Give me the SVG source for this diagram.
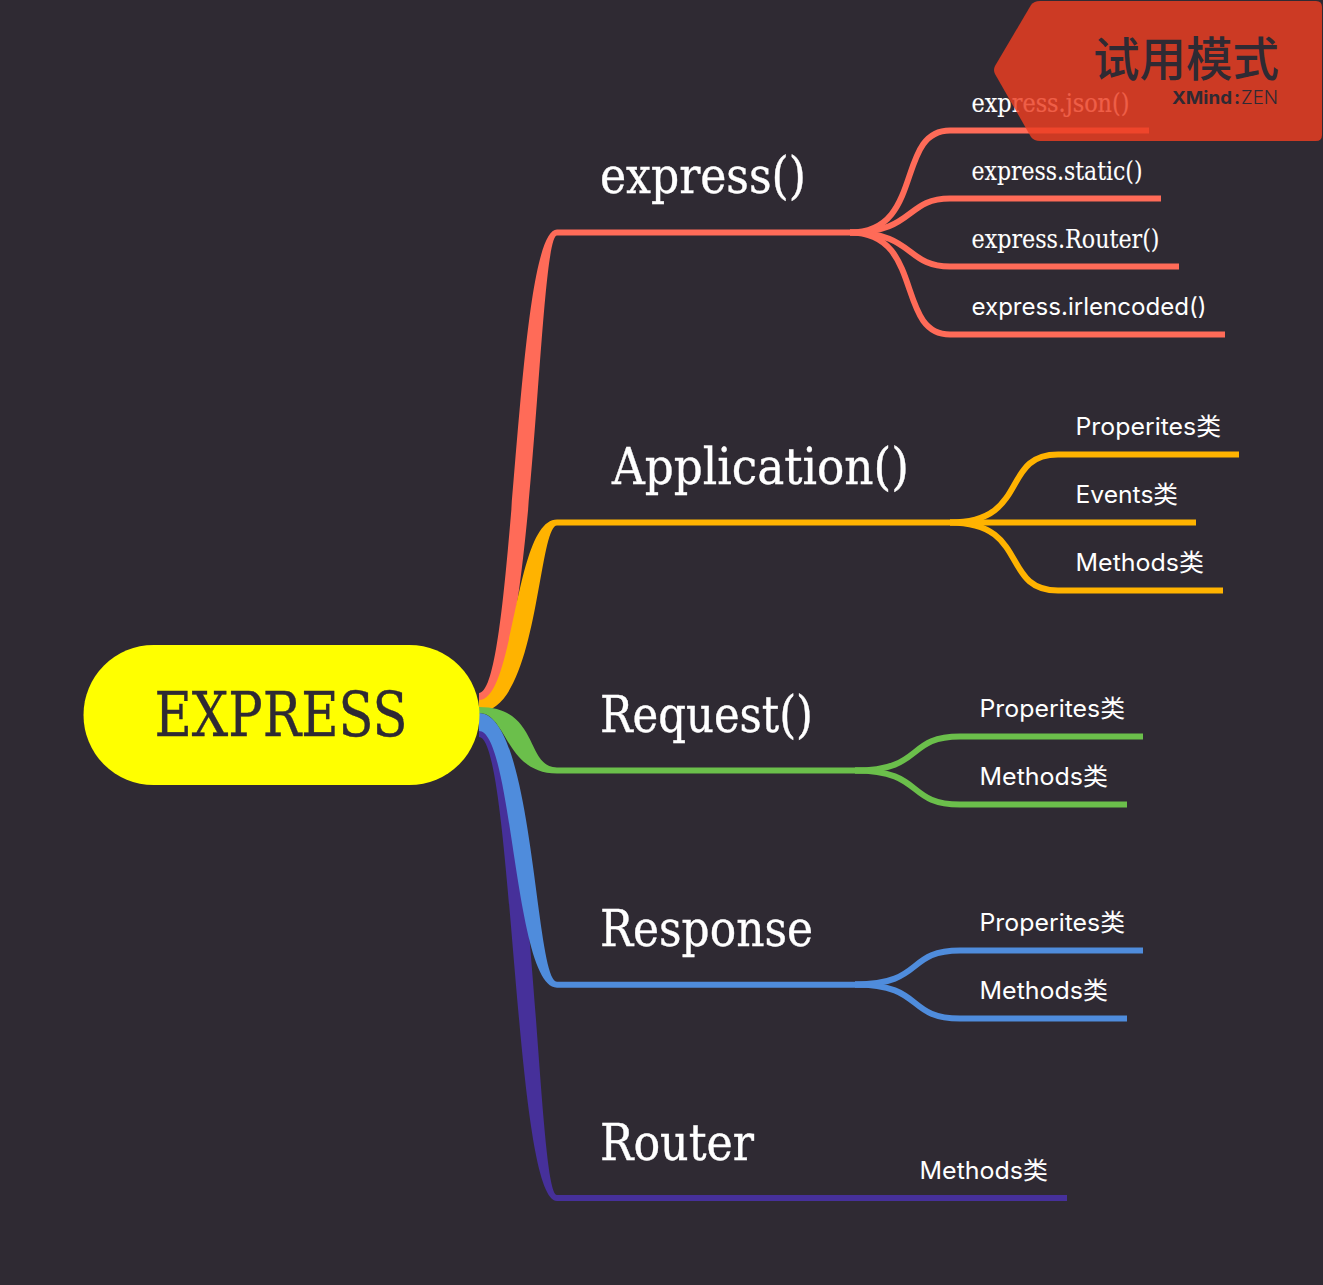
<svg xmlns="http://www.w3.org/2000/svg" width="1323" height="1285" viewBox="0 0 1323 1285">
<style>
.t{font-family:"DejaVu Serif Condensed","DejaVu Serif",serif;fill:#fff;stroke:#fff;stroke-width:.35px}
.main{font-size:50px}
.s{font-size:26px;stroke-width:.1px}
.m{font-family:Inter,"Noto Sans CJK SC",sans-serif;font-size:24px;fill:#fff}
.b{fill:none;stroke-width:6px}
</style>
<rect width="1323" height="1285" fill="#2f2a33"/>
<g id="connectors">
<path d="M479 693C515 693 514 229.500 557 229.500L850 229.500V235.500L557 235.500C537 235.500 535 708 479 708Z" fill="#ff6b58"/>
<path d="M479 700C515 700 514 519.500 557 519.500L1196 519.500V525.500L557 525.500C538 525.500 538 712 479 712Z" fill="#ffb300"/>
<path d="M479 720C535 720 536 1195 557 1195L1067 1195V1201L557 1201C514 1201 513 737 479 737Z" fill="#46309a"/>
<path d="M479 713C534 713 535 981.700 557 981.700L870 981.700V987.700L557 987.700C514 987.700 513 731 479 731Z" fill="#4f8cdc"/>
<path d="M479 707C540 707 525 767.500 557 767.500L870 767.500V773.500L557 773.500C505 773.500 507 713 479 713Z" fill="#6bbf4b"/>
<g class="b" stroke="#ff6b58">
<path d="M850 232.500C925 232.500 895 130.500 950 130.500H1149"/>
<path d="M850 232.500C915 232.500 905 198.500 950 198.500H1161"/>
<path d="M850 232.500C915 232.500 905 266.500 950 266.500H1179"/>
<path d="M850 232.500C925 232.500 895 334.500 950 334.500H1225"/>
</g>
<g class="b" stroke="#ffb300">
<path d="M950 522.500C1030 522.500 1000 454.500 1058 454.500H1239"/>
<path d="M950 522.500C1030 522.500 1000 590.500 1058 590.500H1223"/>
</g>
<g class="b" stroke="#6bbf4b">
<path d="M855 770.500C925 770.500 905 736.500 960 736.500H1143"/>
<path d="M855 770.500C925 770.500 905 804.500 960 804.500H1127"/>
</g>
<g class="b" stroke="#4f8cdc">
<path d="M855 984.500C925 984.500 905 950.500 960 950.500H1143"/>
<path d="M855 984.500C925 984.500 905 1018.500 960 1018.500H1127"/>
</g>
</g>
<g id="root"><rect x="83.500" y="645" width="396" height="140" rx="70" fill="#ff0"/>
<text x="154.500" y="736" class="t" style="fill:#2f2a33;stroke:#2f2a33;font-size:62px" textLength="253" lengthAdjust="spacingAndGlyphs">EXPRESS</text></g>
<g id="n-express"><text x="600" y="193" class="t main" textLength="206" lengthAdjust="spacingAndGlyphs">express()</text></g>
<g id="n-application"><text x="612" y="484" class="t main" textLength="297" lengthAdjust="spacingAndGlyphs">Application()</text></g>
<g id="n-request"><text x="600" y="732" class="t main" textLength="213" lengthAdjust="spacingAndGlyphs">Request()</text></g>
<g id="n-response"><text x="600" y="946" class="t main" textLength="213" lengthAdjust="spacingAndGlyphs">Response</text></g>
<g id="n-router"><text x="600" y="1160" class="t main" textLength="154" lengthAdjust="spacingAndGlyphs">Router</text></g>
<g id="n-json"><text x="971.500" y="111.500" class="t s" textLength="158" lengthAdjust="spacingAndGlyphs">express.json()</text></g>
<g id="n-static"><text x="971.500" y="179.500" class="t s" textLength="171" lengthAdjust="spacingAndGlyphs">express.static()</text></g>
<g id="n-router-fn"><text x="971.500" y="247.500" class="t s" textLength="188" lengthAdjust="spacingAndGlyphs">express.Router()</text></g>
<g id="n-urlencoded"><text x="971.500" y="315" class="m" textLength="235" lengthAdjust="spacingAndGlyphs">express.irlencoded()</text></g>
<g id="n-a1"><text x="1075.500" y="435" class="m" textLength="145.500" lengthAdjust="spacingAndGlyphs">Properites类</text></g>
<g id="n-a2"><text x="1075.500" y="503" class="m" textLength="102.500" lengthAdjust="spacingAndGlyphs">Events类</text></g>
<g id="n-a3"><text x="1075.500" y="571" class="m" textLength="128.500" lengthAdjust="spacingAndGlyphs">Methods类</text></g>
<g id="n-r1"><text x="979.500" y="717" class="m" textLength="145.500" lengthAdjust="spacingAndGlyphs">Properites类</text></g>
<g id="n-r2"><text x="979.500" y="785" class="m" textLength="128.500" lengthAdjust="spacingAndGlyphs">Methods类</text></g>
<g id="n-s1"><text x="979.500" y="931" class="m" textLength="145.500" lengthAdjust="spacingAndGlyphs">Properites类</text></g>
<g id="n-s2"><text x="979.500" y="999" class="m" textLength="128.500" lengthAdjust="spacingAndGlyphs">Methods类</text></g>
<g id="n-t1"><text x="919.500" y="1179" class="m" textLength="128.500" lengthAdjust="spacingAndGlyphs">Methods类</text></g>
<g id="watermark">
<path d="M1040 1H1316Q1322 1 1322 7V135Q1322 141 1316 141H1040Q1034 141 1031 137L995 74Q993 70 995 66L1031 5Q1034 1 1040 1Z" fill="#ec3d22" fill-opacity=".83"/>
<text x="1093" y="75.500" style="font-family:'Noto Sans CJK SC',sans-serif;font-size:46.500px;font-weight:500;fill:#2f2a33">试用模式</text>
<text y="104" style="font-family:Inter,sans-serif;font-size:18px;fill:#2f2a33"><tspan x="1172" font-weight="700" textLength="60" lengthAdjust="spacingAndGlyphs">XMind</tspan><tspan x="1234" font-weight="700">:</tspan><tspan x="1241" font-weight="300" textLength="37" lengthAdjust="spacingAndGlyphs">ZEN</tspan></text>
</g>
</svg>
